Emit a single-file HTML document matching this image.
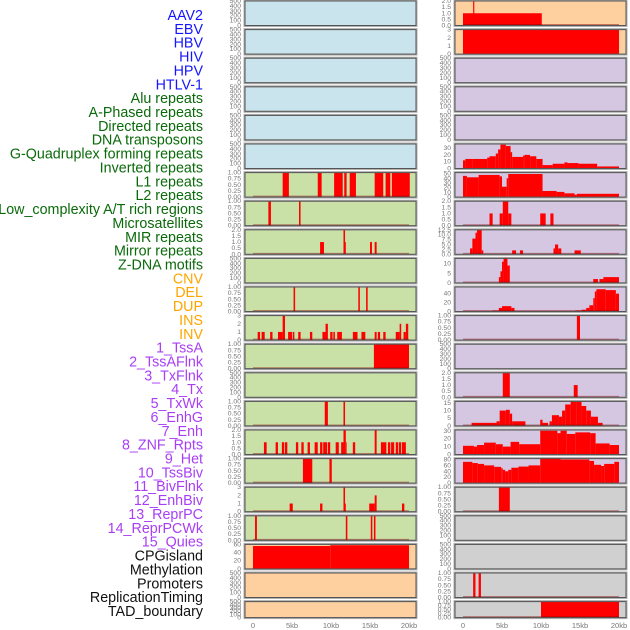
<!DOCTYPE html>
<html><head><meta charset="utf-8"><style>
html,body{margin:0;padding:0;background:#fff;}
svg{display:block;font-family:"Liberation Sans",sans-serif;}
</style></head><body>
<svg id="chart" width="630" height="630" viewBox="0 0 630 630" xmlns="http://www.w3.org/2000/svg"></svg>
<script>
const trackLabels = ["AAV2","EBV","HBV","HIV","HPV","HTLV-1","Alu repeats","A-Phased repeats","Directed repeats","DNA transposons","G-Quadruplex forming repeats","Inverted repeats","L1 repeats","L2 repeats","Low_complexity A/T rich regions","Microsatellites","MIR repeats","Mirror repeats","Z-DNA motifs","CNV","DEL","DUP","INS","INV","1_TssA","2_TssAFlnk","3_TxFlnk","4_Tx","5_TxWk","6_EnhG","7_Enh","8_ZNF_Rpts","9_Het","10_TssBiv","11_BivFlnk","12_EnhBiv","13_ReprPC","14_ReprPCWk","15_Quies","CPGisland","Methylation","Promoters","ReplicationTiming","TAD_boundary"];
const labelColors = ["#1515ff","#1515ff","#1515ff","#1515ff","#1515ff","#1515ff","#0a6a0a","#0a6a0a","#0a6a0a","#0a6a0a","#0a6a0a","#0a6a0a","#0a6a0a","#0a6a0a","#0a6a0a","#0a6a0a","#0a6a0a","#0a6a0a","#0a6a0a","#ffa500","#ffa500","#ffa500","#ffa500","#ffa500","#a83ef5","#a83ef5","#a83ef5","#a83ef5","#a83ef5","#a83ef5","#a83ef5","#a83ef5","#a83ef5","#a83ef5","#a83ef5","#a83ef5","#a83ef5","#a83ef5","#a83ef5","#111","#111","#111","#111","#111"];
const xTickValues = [0,5,10,15,20];
const xTickLabels = ["0","5kb","10kb","15kb","20kb"];
const tick500 = [0,100,200,300,400,500];
const tick1 = [0,0.25,0.5,0.75,1.0];
const tick2 = [0,0.5,1.0,1.5,2.0];
const tick3 = [0,1,2,3];
// interval data: [startKb, endKb, value]
const L6 = [[3.8,4.6,1],[8.3,8.8,1],[10.4,11.5,1],[11.7,12,1],[12.4,13.2,1],[15.6,16.7,1],[17.0,17.6,1],[17.8,20.1,1]];
const L7 = [[1.97,2.3,1],[5.9,6.1,1]];
const L8 = [[8.6,9.1,1],[11.6,11.8,2],[11.8,11.9,1],[15.0,15.25,1],[15.6,15.85,1]];
const L10 = [[5.2,5.4,1],[13.5,13.7,1],[14.5,14.7,1]];
const L11 = [[0.6,0.9,1],[1.1,1.5,1],[2.2,2.5,1],[3.2,3.8,1],[3.8,4.1,3],[4.5,5.0,1],[5.1,5.3,1],[5.8,6.1,1],[7.3,7.6,1],[8.9,9.3,1],[9.3,9.6,2],[9.9,10.2,1],[10.3,10.5,1],[10.8,11.4,1],[12.8,13.4,1],[13.9,14.4,1],[15.6,15.85,1],[16.0,16.3,1],[16.7,17.0,1],[18.3,18.8,1],[18.8,19.0,2],[19.3,19.6,1],[19.6,19.9,2]];
const L12 = [[15.5,20,1]];
const L14 = [[9.2,9.6,1],[11.6,11.8,1]];
const L15 = [[1.4,1.75,1],[2.9,3.2,1],[3.7,4.0,1],[4.1,4.4,1],[5.5,5.8,1],[6.2,6.5,1],[7.0,7.3,1],[7.9,8.3,1],[8.6,8.9,1],[9.0,9.3,1],[9.3,9.5,1],[9.6,9.9,1],[10.6,11.0,1],[11.3,11.6,1],[11.6,11.9,2],[11.9,12.0,1],[12.8,13.1,1],[15.6,15.85,2],[16.4,17.1,1],[17.3,17.6,1],[17.7,18.1,1],[18.3,18.6,1],[18.7,19.0,1],[19.1,19.6,1]];
const L16 = [[6.4,7.6,1],[9.8,10.1,1]];
const L17 = [[4.7,5.1,1],[8.6,8.9,1],[11.6,11.8,3],[11.8,11.9,1],[14.9,15.6,1],[15.6,15.85,2],[19.1,19.4,1]];
const L18 = [[0.26,0.5,1],[11.9,12.1,1],[15.1,15.3,1],[15.5,15.7,1]];
const L19 = [[0,9.9,56],[9.9,20,58]];
const R0 = [[0,10.1,1],[1.3,1.45,2]];
const R1 = [[0,20,3]];
const R5 = [[0,0.3,12],[0.3,1.2,14],[1.2,3.1,14],[3.1,3.4,16],[3.4,4.2,18],[4.2,4.5,22],[4.5,4.8,28],[4.8,5.5,35],[5.5,6.1,33],[6.1,6.3,24],[6.3,7.7,17],[7.7,7.9,19],[7.9,8.6,20],[8.6,9.4,18],[9.4,10.2,14],[10.2,11.5,5],[11.5,13.0,7],[13.0,13.4,9],[13.4,14.8,8],[14.8,17.2,7],[17.2,20,3]];
const R6 = [[0,0.5,45],[0.5,2.0,42],[2.0,4.7,47],[4.7,5.0,44],[5.0,5.6,22],[5.6,5.8,40],[5.8,10.2,49],[10.2,12.0,13],[12.0,13.0,11],[13.0,14.3,8],[14.3,14.6,5],[14.6,20,7]];
const R7 = [[3.4,3.8,1],[4.7,5.1,1],[5.1,5.8,2],[5.8,6.2,1],[9.9,10.6,1],[11.2,11.6,1]];
const R8 = [[0.9,1.2,3],[1.2,1.6,8],[1.6,1.8,11],[1.8,2.4,12.5],[2.4,2.6,2],[6.3,6.8,2],[7.3,7.7,2],[11.6,11.8,3],[11.8,12.2,5],[12.2,12.6,3],[14.3,15.1,2]];
const R9 = [[4.6,4.8,3],[4.8,5.0,6],[5.0,5.2,11],[5.2,5.7,13],[5.7,6.0,9],[16.7,17.3,2],[17.5,18.0,2],[18.0,20,3]];
const R10 = [[3.8,4.6,2],[4.6,5.0,8],[5.0,6.2,12],[6.2,6.6,8],[14.4,15.2,2],[15.2,15.8,4],[15.8,16.2,8],[16.2,16.7,14],[16.7,16.9,30],[16.9,17.1,45],[17.1,18.3,50],[18.3,19.6,48],[19.6,20,40]];
const R11 = [[14.6,15.0,1]];
const R13 = [[5.1,6.0,2],[14.2,14.7,1]];
const R14 = [[1.1,4.3,2],[4.3,4.7,3],[4.7,5.5,10],[5.5,6.0,10.5],[6.0,6.3,8],[6.3,8.0,3],[9.9,10.2,4],[10.2,10.9,2],[11.1,11.4,3],[11.4,12.3,7],[12.3,12.7,6],[12.7,13.1,10],[13.1,13.8,14],[13.8,14.6,16],[14.6,15.2,16],[15.2,15.8,13],[15.8,16.4,10],[16.4,17.3,6],[17.3,17.9,2]];
const R15 = [[0,1.4,11],[1.4,1.8,10],[1.8,2.7,12],[2.7,4.2,15],[4.2,5.1,13],[5.1,6.1,10],[6.1,7.2,16],[7.2,9.9,13],[9.9,12.1,30],[12.1,12.5,27],[12.5,13.3,30],[13.3,14.4,26],[14.4,16.3,28],[16.3,17.0,27],[17.0,18.8,14],[18.8,20,12]];
const R16 = [[0,1.2,72],[1.2,1.9,68],[1.9,2.7,65],[2.7,4.0,60],[4.0,4.9,55],[4.9,5.1,50],[5.1,5.4,45],[5.4,5.8,40],[5.8,6.2,45],[6.2,7.1,52],[7.1,8.4,56],[8.4,9.9,60],[9.9,12.5,85],[12.5,16.2,80],[16.2,16.8,75],[16.8,17.7,62],[17.7,18.1,58],[18.1,19.4,65],[19.4,20,72]];
const R17 = [[4.6,6.0,1]];
const R20 = [[1.3,1.6,1],[2.0,2.3,1]];
const R21 = [[10.0,20,1]];

const empty = [];
const BLUE="#c9e4ec", GREEN="#c9e1a7", ORANGE="#fecf9f", PURPLE="#d5c6e1", GRAY="#d0d0d0";
const panels = [
 [0,0,empty,500,tick500,BLUE,false],[0,1,empty,500,tick500,BLUE,false],[0,2,empty,500,tick500,BLUE,false],
 [0,3,empty,500,tick500,BLUE,false],[0,4,empty,500,tick500,BLUE,false],[0,5,empty,500,tick500,BLUE,false],
 [0,6,L6,1,tick1,GREEN,true],[0,7,L7,1,tick1,GREEN,true],[0,8,L8,2,tick2,GREEN,true],[0,9,empty,500,tick500,GREEN,false],
 [0,10,L10,1,tick1,GREEN,true],[0,11,L11,3,tick3,GREEN,true],[0,12,L12,1,tick1,GREEN,true],[0,13,empty,500,tick500,GREEN,false],
 [0,14,L14,1,tick1,GREEN,true],[0,15,L15,2,tick2,GREEN,true],[0,16,L16,1,tick1,GREEN,true],[0,17,L17,3,tick3,GREEN,true],
 [0,18,L18,1,tick1,GREEN,true],[0,19,L19,60,[0,20,40,60],ORANGE,false],[0,20,empty,500,tick500,ORANGE,false],[0,21,empty,500,tick500,ORANGE,false],
 [1,0,R0,2,tick2,ORANGE,true],[1,1,R1,3,tick3,ORANGE,false],[1,2,empty,500,tick500,PURPLE,false],[1,3,empty,500,tick500,PURPLE,false],
 [1,4,empty,500,tick500,PURPLE,false],[1,5,R5,36,[0,10,20,30],PURPLE,false],[1,6,R6,52,[0,10,20,30,40,50],PURPLE,false],
 [1,7,R7,2,tick2,PURPLE,true],[1,8,R8,12.5,[0,2.5,5,7.5,10,12.5],PURPLE,true],[1,9,R9,12.7,[0,5,10],PURPLE,true],
 [1,10,R10,55,[0,20,40],PURPLE,true],[1,11,R11,1,tick1,PURPLE,true],[1,12,empty,500,tick500,PURPLE,false],
 [1,13,R13,2,tick2,PURPLE,true],[1,14,R14,16,[0,5,10,15],PURPLE,true],[1,15,R15,31,[0,10,20,30],PURPLE,false],
 [1,16,R16,83,[0,20,40,60,80],PURPLE,false],[1,17,R17,1,tick1,GRAY,true],[1,18,empty,500,tick500,GRAY,false],
 [1,19,empty,500,tick500,GRAY,false],[1,20,R20,1,tick1,GRAY,true],[1,21,R21,1,tick1,GRAY,true]
];
const svg=document.getElementById('chart');
const NS="http://www.w3.org/2000/svg";
function mk(tag,attrs,parent){const e=document.createElementNS(NS,tag);for(const k in attrs)e.setAttribute(k,attrs[k]);(parent||svg).appendChild(e);return e;}
function fmt(v,ticks){const mx=Math.max(...ticks);if(ticks.includes(0.25))return v.toFixed(2);if(ticks.includes(0.5)&&mx<=2)return v.toFixed(1);if(ticks.includes(2.5))return v.toFixed(1);return String(v);}

trackLabels.forEach((t,i)=>{
  const e=mk('text',{x:203,y:15+13.86*i+5,'text-anchor':'end','font-size':14.3,fill:labelColors[i]});
  e.textContent=t;
  
  
});

panels.forEach(p=>{
  const [col,row,data,ymax,ticks,bg,base]=p;
  const left = col===0?245:455, w=171;
  const top = 1+28.6*row, h = row===21?16:24.5;
  const x0 = left+8, sx = 7.8;
  const X = kb => x0+kb*sx;
  const Y = v => top+h - v/ymax*h;
  const g=mk('g',{});
  
  
  mk('rect',{x:left-0.5,y:top-0.5,width:w+1,height:h+1,fill:bg,stroke:'#b0b0b0','stroke-width':2},g);
  data.forEach(d=>{
    const r=mk('rect',{x:X(d[0]),y:Y(d[2]),width:Math.max(0.8,X(d[1])-X(d[0])),height:Y(0)-Y(d[2]),fill:'#ff0000'},g);
    
    
  });
  if(base) mk('line',{x1:X(0),x2:X(20),y1:top+h-0.8,y2:top+h-0.8,stroke:'rgba(140,0,0,0.45)','stroke-width':1.3},g);
  mk('rect',{x:left,y:top,width:w,height:h,fill:'none',stroke:'#555','stroke-width':1},g);
  ticks.forEach(t=>{
    const e=mk('text',{x:left-4,y:Y(t)+2,'text-anchor':'end','font-size':6.8,fill:'#777'},g);
    e.textContent=fmt(t,ticks);
    
    
  });
});
[0,1].forEach(col=>{
  const x0=(col===0?245:455)+8;
  xTickValues.forEach((v,i)=>{
    const e=mk('text',{x:x0+v*7.8,y:628,'text-anchor':'middle','font-size':7.5,fill:'#777'});
    e.textContent=xTickLabels[i];
    
    
  });
});
</script>
</body></html>
